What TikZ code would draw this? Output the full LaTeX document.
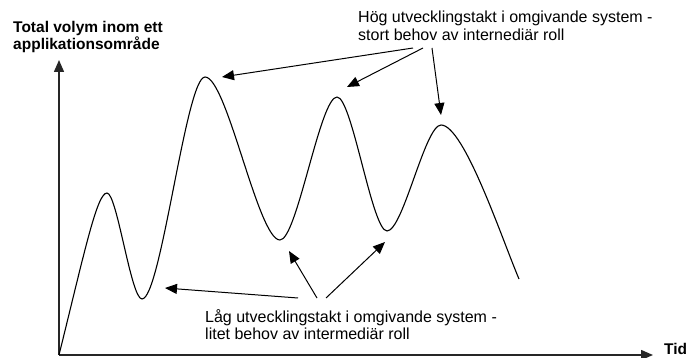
\documentclass[tikz,border=0pt]{standalone}
\usepackage{fontspec}
\setmainfont{Liberation Sans}
\usetikzlibrary{positioning,arrows.meta}

\begin{document}
\begin{tikzpicture}[x=1pt, y=-1pt,
  lbl/.style={inner sep=0pt, anchor=north west, align=left, font=\fontsize{16}{17.5}\selectfont},
  ttl/.style={lbl, font=\fontsize{15.5}{17.5}\selectfont\bfseries},
  arr/.style={-{Triangle[length=12pt,width=10pt]}, line width=1pt},
  axis/.style={-{Triangle[length=12pt,width=10pt]}, line width=1.5pt, black!85},
  curve/.style={line width=1.1pt}]
  \useasboundingbox (0,0) rectangle (697,358);
  % axes
  \coordinate (o) at (59,355);
  \coordinate (ytop) at (59,60);
  \coordinate (xend) at (653,355);
  \draw[axis] (o) -- (ytop);
  \draw[axis] (o) -- (xend);
  \node[ttl] (ylab) at (13,21) {Total volym inom ett\\applikationsområde};
  \node[ttl, anchor=base west] (xlab) at (664,354.5) {Tid};
  % the curve
  \coordinate (p1) at (107,193);
  \coordinate (t1) at (142,299);
  \coordinate (p2) at (205,77);
  \coordinate (t2) at (280,240);
  \coordinate (p3) at (337,97);
  \coordinate (t3) at (387,231);
  \coordinate (p4) at (441,125);
  \coordinate (e) at (519,279);
  \draw[curve] (o) .. controls (85,250) and (97,193) .. (p1)
    .. controls (117,193) and (131,299) .. (t1)
    .. controls (161,299) and (186,77) .. (p2)
    .. controls (227,77) and (258,240) .. (t2)
    .. controls (297,240) and (320,97) .. (p3)
    .. controls (352,97) and (372,231) .. (t3)
    .. controls (403,231) and (425,125) .. (p4)
    .. controls (464,125) and (502,239) .. (e);
  % labels
  \node[lbl] (hog) at (358,10.8) {Hög utvecklingstakt i omgivande system -\\stort behov av internediär roll};
  \node[lbl] (lag) at (205,309) {Låg utvecklingstakt i omgivande system -\\litet behov av intermediär roll};
  \coordinate (hs1) at (413,48);
  \coordinate (hs2) at (423,48);
  \coordinate (hs3) at (432,48);
  \coordinate (ls1) at (298,298);
  \coordinate (ls2) at (317,298);
  \coordinate (ls3) at (326,298);
  \draw[arr] (hs1) -- (222,77) coordinate (ha1);
  \draw[arr] (hs2) -- (347,87) coordinate (ha2);
  \draw[arr] (hs3) -- (441,115) coordinate (ha3);
  \draw[arr] (ls1) -- (165,288) coordinate (la1);
  \draw[arr] (ls2) -- (289,251) coordinate (la2);
  \draw[arr] (ls3) -- (385,242) coordinate (la3);
\end{tikzpicture}
\end{document}
